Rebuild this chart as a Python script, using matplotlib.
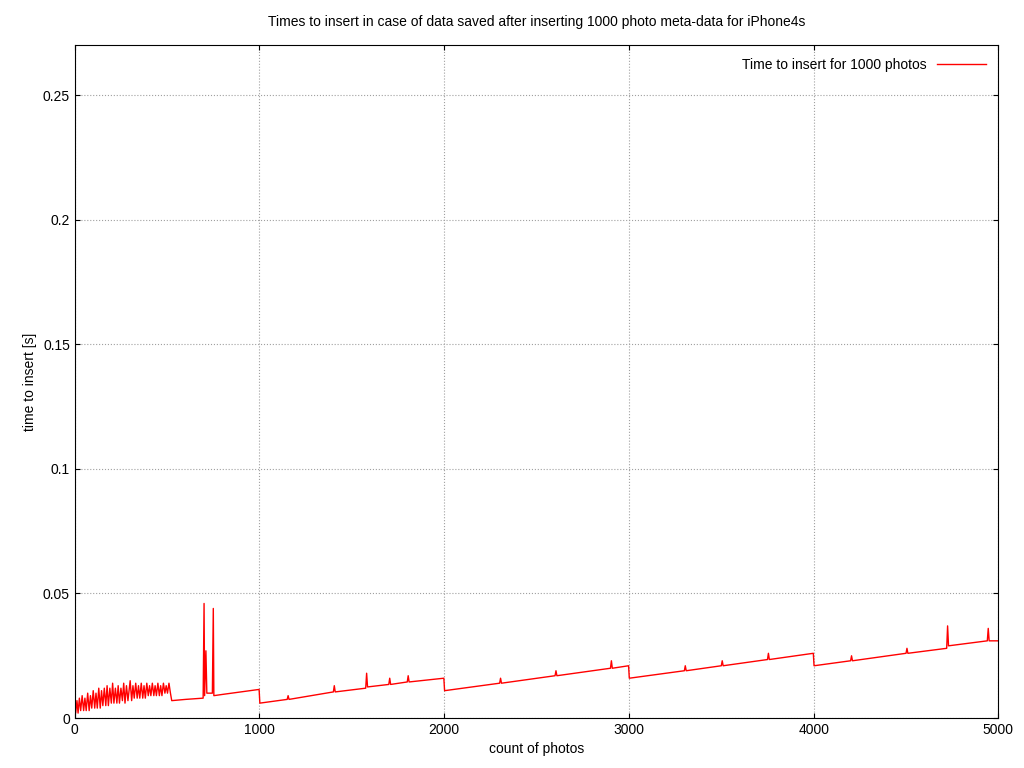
import matplotlib
matplotlib.use("Agg")
import matplotlib.pyplot as plt

plt.rcParams['font.family'] = ['Liberation Sans', 'DejaVu Sans']

pts = [(0,0.010),(5,0.002),(12,0.007),(18,0.002),(25,0.008),(32,0.003),(40,0.009),(48,0.003),(55,0.008),(62,0.003),(70,0.010),(78,0.003),(85,0.009),(92,0.004),(100,0.011),(108,0.004),(115,0.010),(122,0.004),(130,0.012),(138,0.004),(145,0.011),(152,0.005),(160,0.012),(168,0.005),(175,0.013),(182,0.005),(190,0.012),(198,0.006),(205,0.014),(212,0.006),(220,0.012),(228,0.006),(235,0.013),(242,0.006),(250,0.012),(258,0.007),(265,0.014),(272,0.006),(280,0.013),(288,0.007),(300,0.015),(308,0.007),(315,0.013),(322,0.008),(330,0.014),(338,0.008),(345,0.013),(352,0.008),(360,0.014),(368,0.008),(375,0.013),(382,0.008),(390,0.014),(398,0.009),(405,0.013),(412,0.009),(420,0.014),(428,0.009),(435,0.013),(442,0.009),(450,0.014),(458,0.009),(465,0.013),(472,0.009),(480,0.014),(488,0.010),(495,0.013),(502,0.010),(510,0.014),(518,0.010),(525,0.007),
(600,0.0075),(695,0.008),(700,0.046),(703,0.009),(710,0.027),(715,0.010),(745,0.010),(750,0.044),(753,0.009),(800,0.0095),(900,0.0105),(998,0.0115),(1002,0.006),(1150,0.0075),(1155,0.009),(1160,0.0075),(1400,0.0105),(1405,0.013),(1410,0.0105),(1575,0.012),(1580,0.018),(1585,0.0125),(1700,0.0135),(1705,0.016),(1710,0.0135),(1800,0.0145),(1805,0.017),(1810,0.0145),(1998,0.016),(2002,0.011),(2300,0.014),(2305,0.016),(2310,0.014),(2600,0.017),(2605,0.019),(2610,0.017),(2900,0.020),(2905,0.023),(2910,0.020),(2998,0.021),(3002,0.016),(3300,0.019),(3305,0.021),(3310,0.019),(3500,0.021),(3505,0.023),(3510,0.021),(3750,0.0235),(3755,0.026),(3760,0.0235),(3998,0.026),(4002,0.021),(4200,0.023),(4205,0.025),(4210,0.023),(4500,0.026),(4505,0.028),(4510,0.026),(4720,0.028),(4725,0.037),(4730,0.029),(4940,0.031),(4945,0.036),(4950,0.031),(5000,0.031)]
counts = [p[0] for p in pts]
times = [p[1] for p in pts]

fig = plt.figure(figsize=(10.24, 7.68), dpi=100)
ax = fig.add_axes([0.073, 0.065, 0.902, 0.876])
ax.plot(counts, times, color='red', lw=1, label='Time to insert for 1000 photos')
ax.set_xlim(0, 5000)
ax.set_ylim(0, 0.27)
ax.set_xticks(range(0, 5001, 1000))
ax.set_yticks([0, 0.05, 0.1, 0.15, 0.2, 0.25])
ax.set_yticklabels(['0', '0.05', '0.1', '0.15', '0.2', '0.25'])
ax.grid(True, color='#a0a0a0', linestyle=':', lw=0.8)
ax.tick_params(direction='in', top=True, right=True, labelsize=10)
ax.set_xlabel('count of photos', fontsize=10)
ax.set_ylabel('time to insert [s]', fontsize=10)
ax.set_title('Times to insert in case of data saved after inserting 1000 photo meta-data for iPhone4s', fontsize=10, pad=14)
leg = ax.legend(loc='upper right', frameon=False, fontsize=10, markerfirst=False, handlelength=3.5)
fig.savefig('out.png', dpi=100)
